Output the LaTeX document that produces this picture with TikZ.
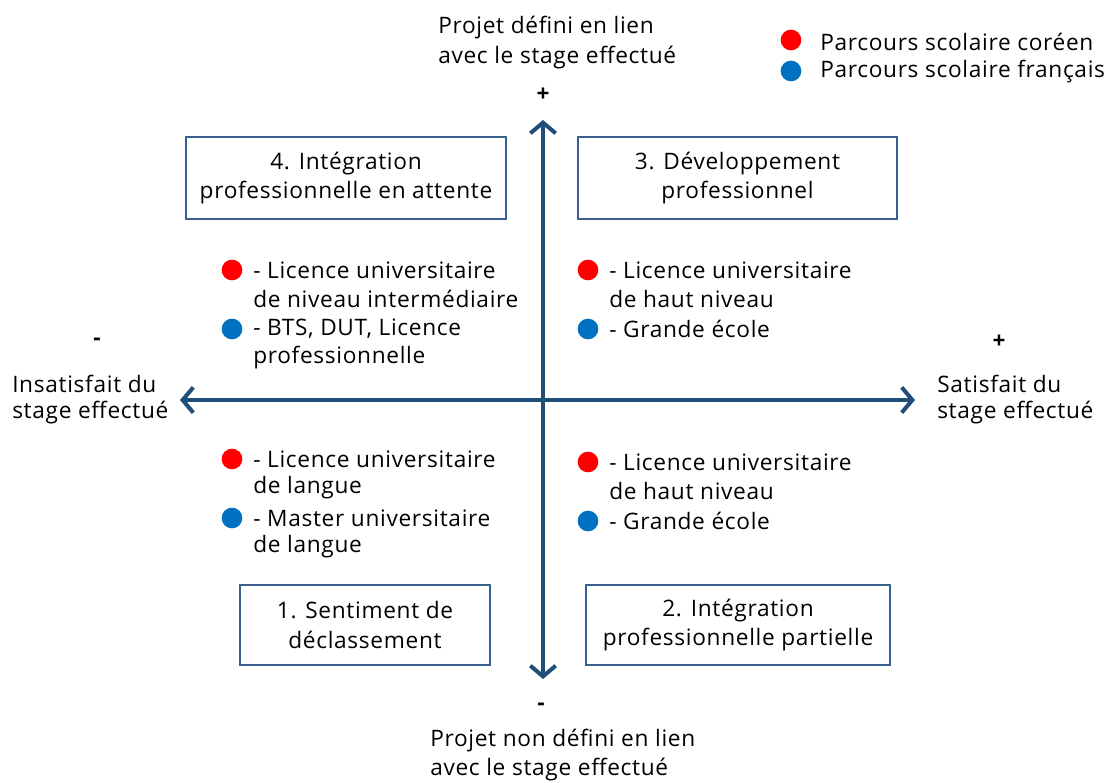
\documentclass[tikz,border=0pt]{standalone}
\usepackage{fontspec}
\setmainfont{Open Sans}[LetterSpace=3]
\usetikzlibrary{arrows.meta}
\definecolor{axiscol}{HTML}{1F4E79}
\definecolor{boxcol}{HTML}{3A6090}
\definecolor{dotred}{HTML}{FF0000}
\definecolor{dotblue}{HTML}{0070C0}
\tikzset{
  txt/.style={font=\fontsize{17}{22}\selectfont, inner sep=0pt, anchor=west},
  sign/.style={font=\fontsize{17}{22}\selectfont\bfseries, inner sep=0pt, anchor=center},
  qbox/.style={draw=boxcol, line width=1.6pt, align=center, inner sep=0pt,
    font=\fontsize{17}{22}\selectfont},
  rdot/.style={circle, fill=dotred, minimum size=15.5pt, inner sep=0pt},
  bdot/.style={circle, fill=dotblue, minimum size=15.5pt, inner sep=0pt},
  axisline/.style={draw=axiscol, line width=3pt,
    arrows={Straight Barb[length=8pt, width=19pt, line width=3pt]-Straight Barb[length=8pt, width=19pt, line width=3pt]}}
}
\begin{document}
\begin{tikzpicture}[x=0.75pt, y=-0.75pt]
\useasboundingbox (0,0) rectangle (1106,782);
% axes
\coordinate (vt) at (543,120);
\coordinate (vb) at (543,679);
\coordinate (hl) at (180,400);
\coordinate (hr) at (915,400);
\draw[axisline] (vb) -- (vt);
\draw[axisline] (hl) -- (hr);
% axis labels
\node[txt] (t1) at (438,28) {Projet défini en lien};
\node[txt] (t2) at (438,58) {avec le stage effectué};
\node[sign] (tp) at (543,95) {+};
\node[sign] (bm) at (541,707) {-};
\node[txt] (b1) at (430,741) {Projet non défini en lien};
\node[txt] (b2) at (430,770) {avec le stage effectué};
\node[sign] (lm) at (97,342) {-};
\node[txt] (l1) at (12,384) {Insatisfait du};
\node[txt] (l2) at (12,413) {stage effectué};
\node[sign] (rp) at (999,342) {+};
\node[txt] (r1) at (937,384) {Satisfait du};
\node[txt] (r2) at (937,413) {stage effectué};
% legend
\node[rdot] (lgr) at (791,40) {};
\node[txt] (lgrt) at (820,42) {Parcours scolaire coréen};
\node[bdot] (lgb) at (791,71) {};
\node[txt] (lgbt) at (820,72) {Parcours scolaire français};
% boxes
\node[qbox, minimum width=240pt, minimum height=61.5pt] (q4) at (346,178) {4. Intégration\\professionnelle en attente};
\node[qbox, minimum width=239pt, minimum height=61.5pt] (q3) at (737.5,178) {3. Développement\\professionnel};
\node[qbox, minimum width=187.5pt, minimum height=60pt] (q1) at (365,625) {1. Sentiment de\\déclassement};
\node[qbox, minimum width=228pt, minimum height=60pt] (q2) at (738,625) {2. Intégration\\professionnelle partielle};
% quadrant top-left
\node[rdot] (d4r) at (232,270) {};
\node[txt] (a41) at (253,270) {- Licence universitaire};
\node[txt] (a42) at (253,299) {de niveau intermédiaire};
\node[bdot] (d4b) at (232,329) {};
\node[txt] (a43) at (253,329) {- BTS, DUT, Licence};
\node[txt] (a44) at (253,358) {professionnelle};
% quadrant top-right
\node[rdot] (d3r) at (588,270) {};
\node[txt] (a31) at (609,270) {- Licence universitaire};
\node[txt] (a32) at (609,299) {de haut niveau};
\node[bdot] (d3b) at (588,329) {};
\node[txt] (a33) at (609,329) {- Grande école};
% quadrant bottom-left
\node[rdot] (d1r) at (232,459) {};
\node[txt] (a11) at (253,459) {- Licence universitaire};
\node[txt] (a12) at (253,488) {de langue};
\node[bdot] (d1b) at (232,518) {};
\node[txt] (a13) at (253,518) {- Master universitaire};
\node[txt] (a14) at (253,547) {de langue};
% quadrant bottom-right
\node[rdot] (d2r) at (588,462) {};
\node[txt] (a21) at (609,462) {- Licence universitaire};
\node[txt] (a22) at (609,491) {de haut niveau};
\node[bdot] (d2b) at (588,521) {};
\node[txt] (a23) at (609,521) {- Grande école};
\end{tikzpicture}
\end{document}
